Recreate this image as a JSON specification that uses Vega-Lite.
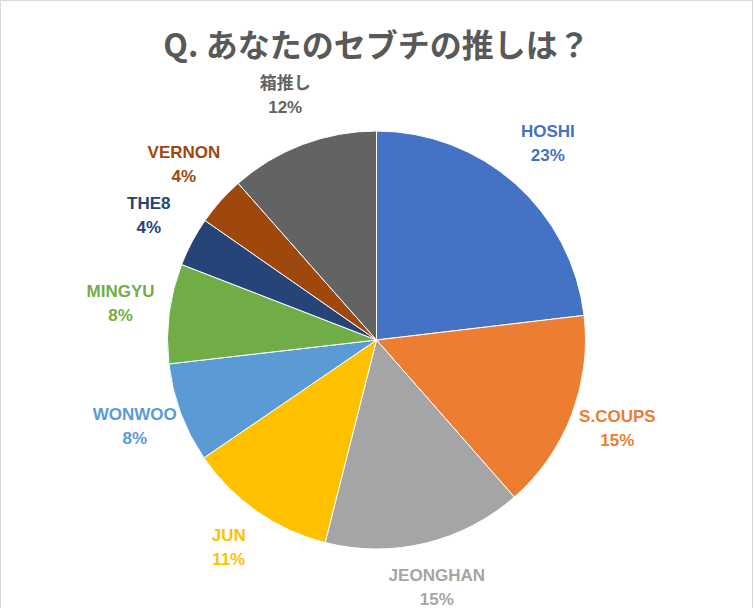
{
  "$schema": "https://vega.github.io/schema/vega-lite/v6.json",
  "autosize": {"type": "none"},
  "padding": 0,
  "width": 753,
  "height": 680,
  "background": "white",
  "view": {"stroke": "#D9D9D9", "strokeWidth": 2},
  "title": {
    "text": "Q. あなたのセブチの推しは？",
    "font": "Noto Sans CJK JP",
    "fontSize": 32,
    "fontWeight": "bold",
    "color": "#595959",
    "anchor": "middle",
    "offset": -64
  },
  "data": {
    "values": [
      {"idx": 1, "name": "HOSHI", "value": 23.1, "label": "HOSHI\n23%"},
      {"idx": 2, "name": "S.COUPS", "value": 15.4, "label": "S.COUPS\n15%"},
      {"idx": 3, "name": "JEONGHAN", "value": 15.4, "label": "JEONGHAN\n15%"},
      {"idx": 4, "name": "JUN", "value": 11.5, "label": "JUN\n11%"},
      {"idx": 5, "name": "WONWOO", "value": 7.7, "label": "WONWOO\n8%"},
      {"idx": 6, "name": "MINGYU", "value": 7.7, "label": "MINGYU\n8%"},
      {"idx": 7, "name": "THE8", "value": 3.8, "label": "THE8\n4%"},
      {"idx": 8, "name": "VERNON", "value": 3.8, "label": "VERNON\n4%"},
      {"idx": 9, "name": "箱推し", "value": 11.5, "label": "箱推し\n12%"}
    ]
  },
  "encoding": {
    "theta": {"field": "value", "type": "quantitative", "stack": true},
    "order": {"field": "idx", "type": "quantitative"},
    "color": {
      "field": "name",
      "type": "nominal",
      "legend": null,
      "scale": {
        "domain": ["HOSHI", "S.COUPS", "JEONGHAN", "JUN", "WONWOO", "MINGYU", "THE8", "VERNON", "箱推し"],
        "range": ["#4472C4", "#ED7D31", "#A5A5A5", "#FFC000", "#5B9BD5", "#70AD47", "#264478", "#9E480E", "#636363"]
      }
    }
  },
  "layer": [
    {
      "mark": {"type": "arc", "outerRadius": 209, "stroke": "white", "strokeWidth": 1}
    },
    {
      "mark": {
        "type": "text",
        "radius": 258,
        "dy": -15,
        "font": "Liberation Sans, Noto Sans CJK JP",
        "fontSize": 17,
        "fontWeight": "bold",
        "lineBreak": "\n",
        "lineHeight": 24,
        "align": "center",
        "baseline": "middle"
      },
      "encoding": {"text": {"field": "label", "type": "nominal"}}
    }
  ],
  "config": {
    "view": {"stroke": "#D9D9D9", "strokeWidth": 2}
  }
}
